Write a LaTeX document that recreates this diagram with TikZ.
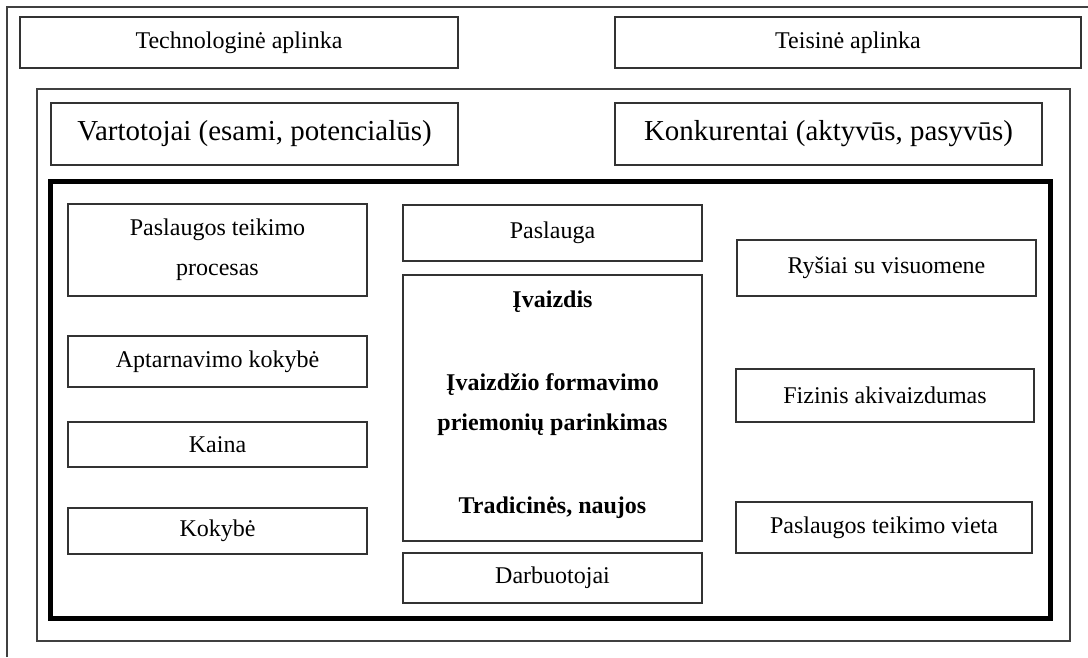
\documentclass[tikz,border=0pt]{standalone}
\usepackage{fontspec}
\setmainfont{Liberation Serif}
\begin{document}
\begin{tikzpicture}[x=0.75pt,y=-0.75pt,
  frame/.style={draw=black!75,line width=1.1pt},
  bx/.style={draw=black!80,line width=1.1pt,rectangle,inner sep=0pt,align=center,
    font=\fontsize{18}{30}\selectfont},
  big/.style={bx,font=\fontsize{21.7}{26}\selectfont},
  lbl/.style={anchor=base,inner sep=0pt,font=\fontsize{18}{24}\selectfont\bfseries}]
\useasboundingbox (0,0) rectangle (1088,657);
% box given by its corners (x1,y1) and (x2,y2)
\newcommand{\cornerbox}[7][bx]{%
  \node[#1,minimum width={(#5-#3)*0.75pt},minimum height={(#6-#4)*0.75pt}]
    (#2) at ({(#3+#5)/2},{(#4+#6)/2}) {#7};}
% environment frames
\draw[frame] (7,657) -- (7,7) -- (1088,7);
\draw[frame] (37,89) rectangle (1070,641);
\draw[line width=3.75pt,black] (50.5,181) rectangle (1050,618);
% outer environment
\cornerbox{tech}{20}{17}{458}{68}{Technologinė aplinka}
\cornerbox{teis}{615}{17}{1081}{68}{Teisinė aplinka}
% market
\cornerbox[big]{vart}{51}{103}{458}{165}{Vartotojai (esami, potencialūs)}
\cornerbox[big]{konk}{615}{103}{1042}{165}{Konkurentai (aktyvūs, pasyvūs)}
% left column
\cornerbox{procesas}{68}{204}{367}{296}{Paslaugos teikimo\\procesas}
\cornerbox{aptarn}{68}{336}{367}{387}{Aptarnavimo kokybė}
\cornerbox{kaina}{68}{422}{367}{467}{Kaina}
\cornerbox{kokybe}{68}{508}{367}{554}{Kokybė}
% middle column
\cornerbox{paslauga}{403}{205}{702}{261}{Paslauga}
\cornerbox{ivaizdis}{403}{275}{702}{541}{}
\cornerbox{darb}{403}{553}{702}{603}{Darbuotojai}
\node[lbl] (t1) at (552.5,307) {Įvaizdis};
\node[lbl] (t2) at (552.5,390) {Įvaizdžio formavimo};
\node[lbl] (t3) at (552.5,430) {priemonių parinkimas};
\node[lbl] (t4) at (552.5,513) {Tradicinės, naujos};
% right column
\cornerbox{rysiai}{737}{240}{1036}{296}{Ryšiai su visuomene}
\cornerbox{fizinis}{736}{369}{1034}{422}{Fizinis akivaizdumas}
\cornerbox{vieta}{736}{502}{1032}{553}{Paslaugos teikimo vieta}
\end{tikzpicture}
\end{document}
